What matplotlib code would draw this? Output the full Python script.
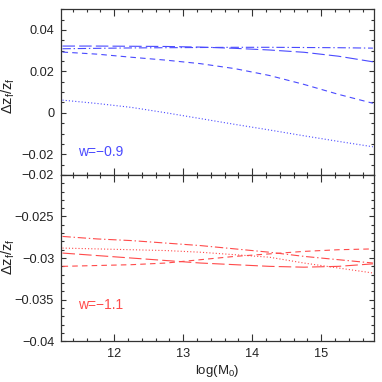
import numpy as np
import matplotlib
matplotlib.use("Agg")
import matplotlib.pyplot as plt
from matplotlib.ticker import MultipleLocator, FixedLocator

plt.rcParams['font.family'] = ['Liberation Sans', 'DejaVu Sans']
plt.rcParams['mathtext.fontset'] = 'custom'
plt.rcParams['mathtext.rm'] = 'Liberation Sans'
plt.rcParams['mathtext.it'] = 'Liberation Sans'
plt.rcParams['lines.scale_dashes'] = False

logM = [11.25, 11.75, 12.25, 12.75, 13.25, 13.75, 14.25, 14.75, 15.25, 15.75]

# w = -0.9 (blue)
blue_longdash = [0.0322, 0.0322, 0.0321, 0.0320, 0.0317, 0.0311, 0.0303, 0.0292, 0.0273, 0.0246]
blue_dash     = [0.0293, 0.0283, 0.0268, 0.0254, 0.0237, 0.0213, 0.0180, 0.0137, 0.0089, 0.0046]
blue_dot      = [0.0061, 0.0045, 0.0026, 0.0000, -0.0028, -0.0056, -0.0083, -0.0111, -0.0138, -0.0164]
blue_dashdot  = [0.0309, 0.0311, 0.0313, 0.0314, 0.0315, 0.0316, 0.0316, 0.0315, 0.0314, 0.0312]

# w = -1.1 (red)
red_dashdot  = [-0.0274, -0.0277, -0.0279, -0.0282, -0.0285, -0.0289, -0.0293, -0.0298, -0.0302, -0.0306]
red_dot      = [-0.0288, -0.0289, -0.0290, -0.0291, -0.0293, -0.0296, -0.0299, -0.0306, -0.0312, -0.0318]
red_longdash = [-0.0294, -0.0297, -0.0300, -0.0303, -0.0306, -0.0308, -0.0310, -0.0311, -0.0310, -0.0307]
red_dash     = [-0.0310, -0.0309, -0.0308, -0.0306, -0.0302, -0.0298, -0.0295, -0.0292, -0.0290, -0.0289]

top_ticks = [-0.02, 0, 0.02, 0.04]
top_labels = ['\u22120.02', '0', '0.02', '0.04']
bot_ticks = [-0.04, -0.035, -0.03, -0.025, -0.02]
bot_labels = ['\u22120.04', '\u22120.035', '\u22120.03', '\u22120.025', '\u22120.02']
x_ticks = [12, 13, 14, 15]
x_labels = ['12', '13', '14', '15']

BLUE = '#4a4aff'
RED = '#ff4a4a'
LW = 0.8
LS_LONG = (0, (9, 3))
LS_DASH = (0, (4, 3))
LS_DOT = (0, (0.8, 1.5))
LS_DD = (0, (6, 2, 1, 2))

fig = plt.figure(figsize=(3.82, 3.82), dpi=100)
ax1 = fig.add_axes([0.160, 0.542, 0.818, 0.434])
ax2 = fig.add_axes([0.160, 0.107, 0.818, 0.435])

ax1.plot(logM, blue_longdash, color=BLUE, lw=LW, ls=LS_LONG)
ax1.plot(logM, blue_dash, color=BLUE, lw=LW, ls=LS_DASH)
ax1.plot(logM, blue_dot, color=BLUE, lw=LW, ls=LS_DOT)
ax1.plot(logM, blue_dashdot, color=BLUE, lw=LW, ls=LS_DD)

ax2.plot(logM, red_dashdot, color=RED, lw=LW, ls=LS_DD)
ax2.plot(logM, red_dot, color=RED, lw=LW, ls=LS_DOT)
ax2.plot(logM, red_longdash, color=RED, lw=LW, ls=LS_LONG)
ax2.plot(logM, red_dash, color=RED, lw=LW, ls=LS_DASH)

for ax in (ax1, ax2):
    ax.set_xlim(11.23, 15.76)
    ax.xaxis.set_major_locator(FixedLocator(x_ticks))
    ax.xaxis.set_minor_locator(MultipleLocator(0.2))
    ax.tick_params(which='both', direction='in', top=True, right=True, colors='#333333', labelcolor='#222222', labelsize=9.2, width=0.8, pad=5)
    ax.tick_params(axis='x', which='major', length=5)
    ax.tick_params(axis='x', which='minor', length=2.2)
    ax.tick_params(axis='y', which='major', length=3.8)
    ax.tick_params(axis='y', which='minor', length=2.2)
    for s in ax.spines.values():
        s.set_color('#333333')
        s.set_linewidth(0.9)

ax1.set_ylim(-0.03, 0.05)
ax1.yaxis.set_major_locator(FixedLocator(top_ticks))
ax1.set_yticklabels(top_labels)
ax1.yaxis.set_minor_locator(MultipleLocator(0.005))
ax1.tick_params(axis='x', labelbottom=False)

ax2.set_ylim(-0.04, -0.02)
ax2.yaxis.set_major_locator(FixedLocator(bot_ticks))
ax2.set_yticklabels(bot_labels)
ax2.yaxis.set_minor_locator(MultipleLocator(0.001))
ax2.set_xticklabels(x_labels)

ylab = r'$\Delta \mathrm{z_f / z_f}$'
for ax, ypos in ((ax1, 0.48), (ax2, 0.51)):
    ax.set_ylabel(ylab, fontsize=10.5, color='#222222')
    ax.yaxis.set_label_coords(-0.142, ypos)
ax2.set_xlabel(r'log(M$_0$)', fontsize=9.5, color='#222222', labelpad=2)

ax1.text(0.055, 0.14, 'w=\u22120.9', transform=ax1.transAxes, color=BLUE, fontsize=10, va='center')
ax2.text(0.055, 0.22, 'w=\u22121.1', transform=ax2.transAxes, color=RED, fontsize=10, va='center')

fig.savefig('out.png', dpi=100)
